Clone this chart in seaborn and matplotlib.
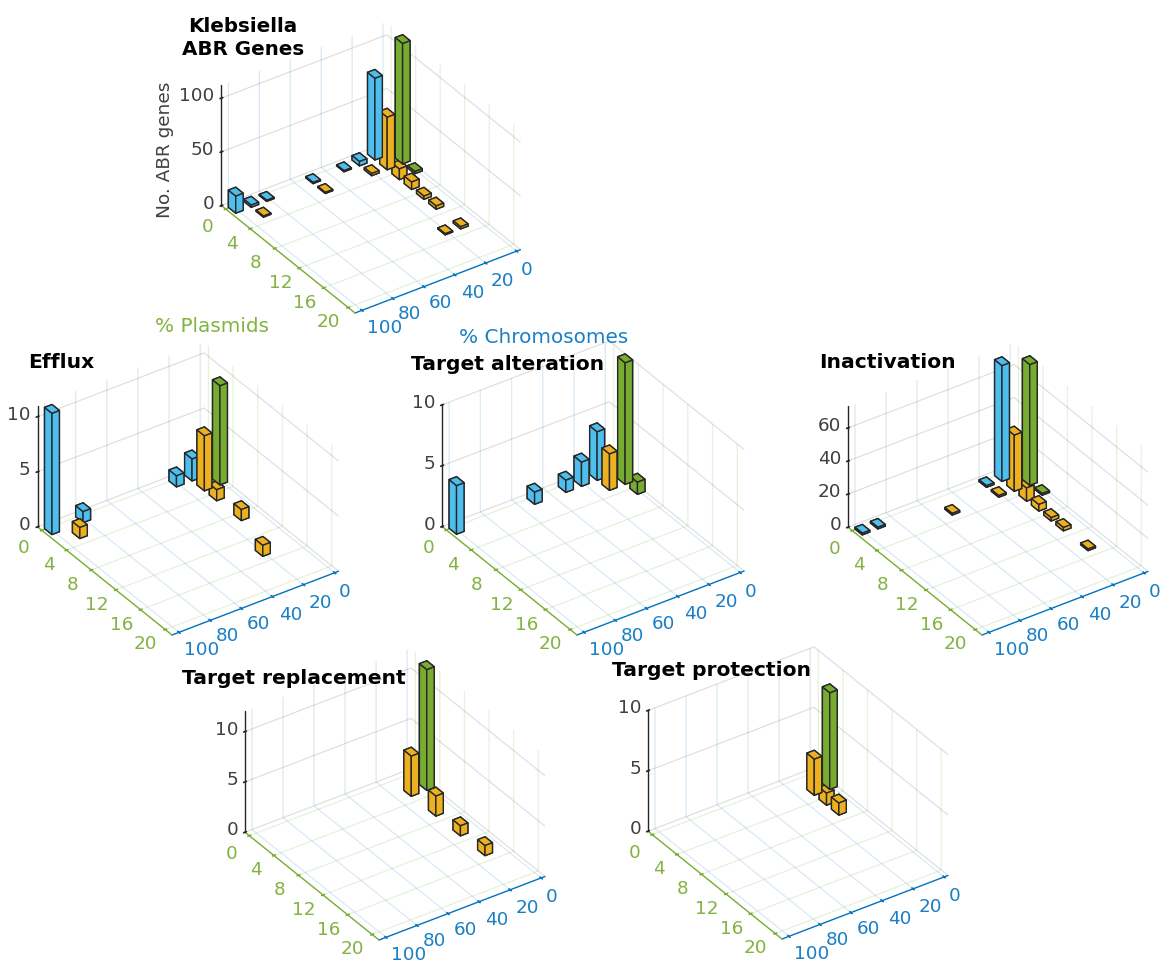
import numpy as np
import matplotlib
matplotlib.use("Agg")
import matplotlib.pyplot as plt
from matplotlib.transforms import Affine2D
from mpl_toolkits.mplot3d import proj3d
import seaborn as sns

# ---------- data: (chromosome %, plasmid %, number of genes) ----------
all_x = [100, 90, 80, 50, 30, 20, 10, 90, 50, 20, 10, 10, 10, 10, 10, 20, 10, 0, 0]
all_y = [.5, .5, .5, .5, .5, .5, .5, 2.5, 2.5, 2.5, 2.5, 4.5, 6.5, 8.5, 10.5, 14.5, 14.5, 2.5, 4.5]
all_h = [16, 2, 1, 1, 1, 4, 76, 1, 1, 2, 49, 10, 7, 3, 3, 1, 2, 112, 2]

efflux_x = [100, 80, 20, 10, 90, 10, 10, 10, 20, 0]
efflux_y = [.5, .5, .5, .5, 2.5, 2.5, 4.5, 8.5, 14.5, 2.5]
efflux_h = [11, 1, 1, 2, 1, 5, 1, 1, 1, 9]

alter_x = [100, 50, 30, 20, 10, 10, 0, 0]
alter_y = [.5, .5, .5, .5, .5, 2.5, 2.5, 4.5]
alter_h = [4, 1, 1, 2, 4, 3, 10, 1]

inact_x = [100, 90, 20, 10, 50, 20, 10, 10, 10, 10, 10, 10, 0, 0]
inact_y = [.5, .5, .5, .5, 2.5, 2.5, 2.5, 4.5, 6.5, 8.5, 10.5, 14.5, 2.5, 4.5]
inact_h = [1, 1, 1, 70, 1, 1, 34, 8, 4, 2, 2, 1, 73, 1]

repl_x = [10, 10, 10, 10, 0]
repl_y = [2.5, 6.5, 10.5, 14.5, 2.5]
repl_h = [4, 2, 1, 1, 12]

prot_x = [10, 10, 10, 0]
prot_y = [2.5, 4.5, 6.5, 2.5]
prot_h = [3, 1, 1, 8]

x_ticks = [0, 20, 40, 60, 80, 100]
y_ticks = [0, 4, 8, 12, 16, 20]

# ---------- style ----------
W, H = 1164, 961
BLUE, ORANGE, GREEN = "#4DBEEE", "#EDB120", "#77AC30"
AX_BLUE, AX_GREEN, AX_DARK = "#0072BD", "#77AC30", "#262626"
sns.set_theme(style="white", palette=[BLUE, ORANGE, GREEN],
              rc={"font.family": "DejaVu Sans", "axes.unicode_minus": False})
bar_cols = sns.color_palette()

XLIM, YLIM = (-2.5, 104.5), (-0.7, 21.1)
ELEV, AZIM = 33.7, 55.4
BOX = (200, 234, 144)
DX, DY = 4.8, 1.2
TICK_SIZE = 13.2

X_OFF = {0: (10, 19), 20: (17, 18), 40: (18, 18), 60: (17, 16), 80: (17, 16), 100: (23, 18)}
Y_OFF = {0: (-18, 18), 4: (-18, 15), 8: (-19, 15), 12: (-19, 15), 16: (-19, 15), 20: (-20, 14)}
Z_OFF = (-7, -2)

panels = [
    dict(x=all_x, y=all_y, h=all_h, zmax=112, zt=[0, 50, 100], title="Klebsiella\nABR Genes", tsize=14.3,
         tpos=(243, 38), tha="center", left=(222, 206), bottom=(355, 313), right=(521, 250)),
    dict(x=efflux_x, y=efflux_y, h=efflux_h, zmax=11, zt=[0, 5, 10], title="Efflux", tsize=14.6,
         tpos=(28, 362), tha="left", left=(40, 526), bottom=(172, 635), right=(341, 571)),
    dict(x=alter_x, y=alter_y, h=alter_h, zmax=10, zt=[0, 5, 10], title="Target alteration", tsize=14.6,
         tpos=(411, 365), tha="left", left=(445, 526), bottom=(577, 635), right=(747, 571)),
    dict(x=inact_x, y=inact_y, h=inact_h, zmax=73, zt=[0, 20, 40, 60], title="Inactivation", tsize=14.6,
         tpos=(819, 362), tha="left", left=(851, 525), bottom=(982, 635), right=(1151, 571)),
    dict(x=repl_x, y=repl_y, h=repl_h, zmax=12, zt=[0, 5, 10], title="Target replacement", tsize=14.6,
         tpos=(182, 679), tha="left", left=(248, 830), bottom=(379, 940), right=(548, 876)),
    dict(x=prot_x, y=prot_y, h=prot_h, zmax=10, zt=[0, 5, 10], title="Target protection", tsize=14.6,
         tpos=(612, 670), tha="left", left=(650, 830), bottom=(782, 939), right=(950, 874)),
]

fig = plt.figure(figsize=(W / 100, H / 100), dpi=100, facecolor="white")


def to_px(ax, x, y, z):
    """Project a data point to figure pixels (origin lower left)."""
    px, py, _ = proj3d.proj_transform(x, y, z, ax.get_proj())
    return ax.transData.transform((px, py))


def freeze_offset(ax, text, dx, dy):
    text.set_transform(ax.transData + Affine2D().translate(dx, dy))
    text.set_transform = lambda t: None


def pin_label(ax, text, cx, cy):
    """Keep an axis label centred on a pixel position (y measured from the top)."""
    text.set_position(ax.transData.inverted().transform((cx, H - cy)))
    text.set_position = lambda p: None


def build(p):
    ax = fig.add_axes([0.1, 0.1, 500 / W, 500 / H], projection="3d", proj_type="ortho")
    ax.patch.set_alpha(0)
    for xv, yv, hv in zip(p["x"], p["y"], p["h"]):
        col = bar_cols[2] if xv == 0 else bar_cols[0] if yv < 1 else bar_cols[1]
        ax.bar3d(xv - DX / 2, yv - DY / 2, 0, DX, DY, hv, color=col, shade=False,
                 edgecolor="#262626", linewidth=1.0)
    ax.set_xlim(*XLIM, view_margin=0)
    ax.set_ylim(*YLIM, view_margin=0)
    ax.set_zlim(0, p["zmax"], view_margin=0)
    ax.set_box_aspect(BOX)
    ax.view_init(elev=ELEV, azim=AZIM)
    ax.set_xticks(x_ticks)
    ax.set_yticks(y_ticks)
    ax.set_zticks(p["zt"])
    ax.set_xticklabels([str(v) for v in x_ticks])
    ax.set_yticklabels([str(v) for v in y_ticks])
    ax.set_zticklabels([str(v) for v in p["zt"]])
    ax.tick_params(axis="x", labelcolor="#1a7fc4", color=AX_BLUE, labelsize=TICK_SIZE)
    ax.tick_params(axis="y", labelcolor="#82b341", color=AX_GREEN, labelsize=TICK_SIZE)
    ax.tick_params(axis="z", labelcolor="#404040", color=AX_DARK, labelsize=TICK_SIZE)
    specs = [(ax.xaxis, AX_BLUE, (0, .447, .741, .15)),
             (ax.yaxis, AX_GREEN, (.467, .675, .188, .17)),
             (ax.zaxis, AX_DARK, (.15, .15, .15, .14))]
    for axis, col, gcol in specs:
        axis.pane.set_alpha(0)
        axis.pane.set_edgecolor("none")
        axis.line.set_color(col)
        axis.line.set_linewidth(1.0)
        axis._axinfo["grid"].update(color=gcol, linewidth=0.9, linestyle="-")
        axis._axinfo["tick"].update(inward_factor=0.1, outward_factor=0.1)
    ax.grid(True)
    # place the axes so its floor corners fall where the reference has them
    for _ in range(3):
        fig.canvas.draw()
        l = to_px(ax, XLIM[1], YLIM[0], 0)
        r = to_px(ax, XLIM[0], YLIM[1], 0)
        scale = (p["right"][0] - p["left"][0]) / (r[0] - l[0])
        pos = ax.get_position(original=True)
        ax.set_position([pos.x0, pos.y0, pos.width * scale, pos.height * scale])
        fig.canvas.draw()
        b = to_px(ax, XLIM[1], YLIM[1], 0)
        tx, ty = p["bottom"][0], H - p["bottom"][1]
        pos = ax.get_position(original=True)
        ax.set_position([pos.x0 + (tx - b[0]) / W, pos.y0 + (ty - b[1]) / H, pos.width, pos.height])
    fig.canvas.draw()
    return ax


def fix_labels(ax, p):
    for tick, v in zip(ax.xaxis.get_major_ticks(), x_ticks):
        tp = to_px(ax, v, YLIM[1], 0)
        tick.label1.set(ha="center", va="center")
        cur = ax.transData.transform(tick.label1.get_position())
        ox, oy = X_OFF[v]
        freeze_offset(ax, tick.label1, tp[0] + ox - cur[0], tp[1] - oy - cur[1])
    for tick, v in zip(ax.yaxis.get_major_ticks(), y_ticks):
        tp = to_px(ax, XLIM[1], v, 0)
        tick.label1.set(ha="center", va="center")
        cur = ax.transData.transform(tick.label1.get_position())
        ox, oy = Y_OFF[v]
        freeze_offset(ax, tick.label1, tp[0] + ox - cur[0], tp[1] - oy - cur[1])
    for tick, v in zip(ax.zaxis.get_major_ticks(), p["zt"]):
        tp = to_px(ax, XLIM[1], YLIM[0], v)
        tick.label1.set(ha="right", va="center")
        cur = ax.transData.transform(tick.label1.get_position())
        freeze_offset(ax, tick.label1, tp[0] + Z_OFF[0] - cur[0], tp[1] - Z_OFF[1] - cur[1])
    bb = ax.get_position()
    # Axes3D.set_title scales the y it is given by 0.92
    ax.set_title(p["title"], fontsize=p["tsize"], fontweight="bold", color="black", ha=p["tha"],
                 x=(p["tpos"][0] / W - bb.x0) / bb.width,
                 y=((H - p["tpos"][1]) / H - bb.y0) / bb.height / 0.92,
                 va="center", linespacing=1.25, pad=0)


axes = [build(p) for p in panels]

# axis labels of the first panel
a0 = axes[0]
for axis, txt, col, rot, size, cen in [
        (a0.xaxis, "% Chromosomes", "#1a7fc4", 0, 14.4, (544, 338)),
        (a0.yaxis, "% Plasmids", "#82b341", 0, 14.4, (212, 327)),
        (a0.zaxis, "No. ABR genes", "#404040", 90, 13.3, (165, 150))]:
    axis.set_rotate_label(False)
    axis.label.set_text(txt)
    axis.label.set(color=col, rotation=rot, fontsize=size)
    pin_label(a0, axis.label, *cen)

for ax, p in zip(axes, panels):
    fix_labels(ax, p)

fig.savefig("out.png", dpi=100, facecolor="white")
